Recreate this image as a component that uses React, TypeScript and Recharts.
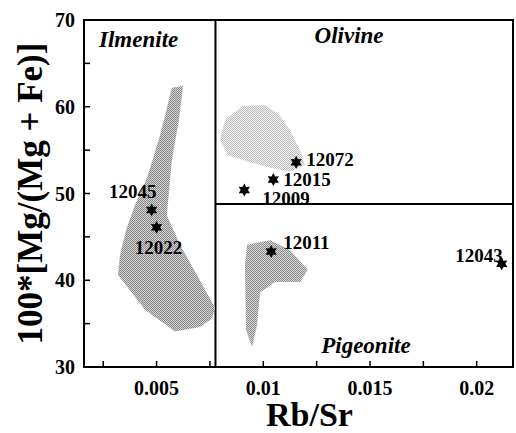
import {
	ReferenceArea,
	ReferenceLine,
	Scatter,
	ScatterChart,
	XAxis,
	YAxis,
} from "recharts";

// lunar basalt samples
const sampleIds = ["12045", "12022", "12072", "12015", "12009", "12011", "12043"];
const rbSr = [0.00477, 0.005, 0.01154, 0.01047, 0.00911, 0.01037, 0.02117];
const mgNumber = [48.1, 46.1, 53.6, 51.6, 50.4, 43.3, 41.9];

// shaded fields (outline vertices)
const ilmeniteFieldX = [0.00572, 0.00624, 0.00605, 0.00572, 0.00548, 0.0061, 0.00703, 0.00774, 0.0076, 0.00703, 0.00586, 0.00446, 0.00319, 0.00329, 0.00357, 0.00399, 0.00455, 0.00516];
const ilmeniteFieldY = [62.2, 62.4, 58.5, 53.9, 47.5, 44.1, 40.0, 36.8, 35.6, 34.6, 34.1, 36.6, 40.6, 42.9, 45.8, 48.7, 51.8, 56.7];
const olivineFieldX = [0.00905, 0.01008, 0.01078, 0.01125, 0.01172, 0.01195, 0.01125, 0.01031, 0.00938, 0.00835, 0.00797, 0.00821];
const olivineFieldY = [60.1, 60.2, 59.0, 57.3, 55.0, 53.3, 52.5, 53.0, 53.6, 54.4, 56.2, 58.5];
const pigeoniteFieldX = [0.00924, 0.01031, 0.01125, 0.01209, 0.01172, 0.01055, 0.00985, 0.00971, 0.00947, 0.00919, 0.00914];
const pigeoniteFieldY = [44.1, 44.6, 43.5, 41.2, 39.8, 39.8, 38.6, 34.8, 32.3, 34.3, 41.8];

// basalt group names and where they sit
const groupNames = ["Ilmenite", "Olivine", "Pigeonite"];
const groupLabelX = [0.00416, 0.01402, 0.01481];
const groupLabelY = [67.7, 68.2, 32.5];

// group boundaries
const ilmeniteLimitRbSr = 0.00776;
const pigeoniteLimitMg = 48.8;

const xDomain = [0.0016, 0.0217];
const yDomain = [30, 70];
const xTicks = [0.0025, 0.005, 0.0075, 0.01, 0.0125, 0.015, 0.0175, 0.02];
const yTicks = [30, 35, 40, 45, 50, 55, 60, 65, 70];

const FONT = "'Liberation Serif', 'Times New Roman', serif";

const labelPlacement: Record<string, { dx: number; dy: number; anchor: string }> = {
	"12045": { dx: -19, dy: -18, anchor: "middle" },
	"12022": { dx: 2, dy: 20, anchor: "middle" },
	"12072": { dx: 10, dy: -3, anchor: "start" },
	"12015": { dx: 10, dy: 0, anchor: "start" },
	"12009": { dx: 18, dy: 8, anchor: "start" },
	"12011": { dx: 12, dy: -9, anchor: "start" },
	"12043": { dx: 1, dy: -8, anchor: "end" },
};

const samples = sampleIds.map((id, i) => ({ id, x: rbSr[i], y: mgNumber[i] }));
const groups = groupNames.map((name, i) => ({ name, x: groupLabelX[i], y: groupLabelY[i] }));
const toPoints = (xs: number[], ys: number[]) => xs.map((x, i) => ({ x, y: ys[i] }));

function Star(props: any) {
	const { cx, cy, payload } = props;
	const pts: string[] = [];
	for (let i = 0; i < 12; i++) {
		const a = (Math.PI / 6) * i - Math.PI / 2;
		const r = i % 2 === 0 ? 6.5 : 3.6;
		pts.push(`${cx + r * Math.cos(a)},${cy + r * Math.sin(a)}`);
	}
	const p = labelPlacement[payload.id];
	return (
		<g>
			<polygon points={pts.join(" ")} fill="#000" />
			<text
				x={cx + p.dx}
				y={cy + p.dy}
				textAnchor={p.anchor as any}
				dominantBaseline="central"
				fontSize={19}
				fontWeight="bold"
				fontFamily={FONT}
				fill="#000"
			>
				{payload.id}
			</text>
		</g>
	);
}

function GroupName(props: any) {
	const { cx, cy, payload } = props;
	return (
		<text
			x={cx}
			y={cy}
			textAnchor="middle"
			dominantBaseline="central"
			fontSize={23}
			fontWeight="bold"
			fontStyle="italic"
			fontFamily={FONT}
			fill="#000"
		>
			{payload.name}
		</text>
	);
}

const field = (id: string, dot: string, bg: string) => (props: any) => {
	const pts = props.points.map((p: any) => `${p.x},${p.y}`).join(" ");
	return (
		<g>
			<defs>
				<pattern id={id} width={2} height={2} patternUnits="userSpaceOnUse">
					<rect width={2} height={2} fill={bg} />
					<rect width={1} height={1} fill={dot} />
					<rect x={1} y={1} width={1} height={1} fill={dot} />
				</pattern>
			</defs>
			<polygon points={pts} fill={`url(#${id})`} stroke="none" />
		</g>
	);
};

const noDot = () => <g />;

function XTitle(props: any) {
	const { viewBox } = props;
	return (
		<text
			x={viewBox.x + viewBox.width / 2 + 11}
			y={viewBox.y + 59}
			textAnchor="middle"
			fontSize={34}
			fontWeight="bold"
			fontFamily={FONT}
			fill="#000"
		>
			Rb/Sr
		</text>
	);
}

function YTitle(props: any) {
	const { viewBox } = props;
	const x = viewBox.x + 30;
	const y = viewBox.y + viewBox.height / 2;
	return (
		<text
			x={x}
			y={y}
			transform={`rotate(-90, ${x}, ${y})`}
			textAnchor="middle"
			dominantBaseline="central"
			fontSize={35}
			fontWeight="bold"
			fontFamily={FONT}
			fill="#000"
		>
			100*[Mg/(Mg + Fe)]
		</text>
	);
}

const xLabel = (v: number) =>
	Math.abs(v / 0.005 - Math.round(v / 0.005)) < 1e-6 ? String(+v.toFixed(3)) : "";
const yLabel = (v: number) => (v % 10 === 0 ? String(v) : "");

export default function App() {
	return (
		<div style={{ position: "absolute", left: 0, top: 0, background: "#fff" }}>
			<ScatterChart
				width={516}
				height={433}
				margin={{ top: 20, right: 3, left: 0, bottom: 0 }}
			>
				<XAxis
					type="number"
					dataKey="x"
					domain={xDomain}
					ticks={xTicks}
					tickFormatter={xLabel}
					allowDataOverflow
					height={66}
					tickSize={-6}
					tickMargin={20}
					axisLine={{ stroke: "#000", strokeWidth: 2 }}
					tickLine={{ stroke: "#000", strokeWidth: 1.5 }}
					tick={{ fill: "#000", fontSize: 20, fontWeight: "bold", fontFamily: FONT }}
					label={<XTitle />}
				/>
				<YAxis
					type="number"
					dataKey="y"
					domain={yDomain}
					ticks={yTicks}
					tickFormatter={yLabel}
					allowDataOverflow
					width={84}
					tickSize={-6}
					tickMargin={15}
					axisLine={{ stroke: "#000", strokeWidth: 2 }}
					tickLine={{ stroke: "#000", strokeWidth: 1.5 }}
					tick={{ fill: "#000", fontSize: 20, fontWeight: "bold", fontFamily: FONT }}
					label={<YTitle />}
				/>
				<Scatter
					data={toPoints(ilmeniteFieldX, ilmeniteFieldY)}
					line={field("ilmPat", "#8a8a8a", "#d2d2d2")}
					shape={noDot}
					isAnimationActive={false}
				/>
				<Scatter
					data={toPoints(olivineFieldX, olivineFieldY)}
					line={field("olvPat", "#bcbcbc", "#f2f2f2")}
					shape={noDot}
					isAnimationActive={false}
				/>
				<Scatter
					data={toPoints(pigeoniteFieldX, pigeoniteFieldY)}
					line={field("pigPat", "#8e8e8e", "#d4d4d4")}
					shape={noDot}
					isAnimationActive={false}
				/>
				<ReferenceArea
					x1={xDomain[0]}
					x2={xDomain[1]}
					y1={yDomain[0]}
					y2={yDomain[1]}
					fill="none"
					stroke="#000"
					strokeWidth={2}
				/>
				<ReferenceLine
					segment={[
						{ x: ilmeniteLimitRbSr, y: yDomain[0] },
						{ x: ilmeniteLimitRbSr, y: yDomain[1] },
					]}
					stroke="#000"
					strokeWidth={2}
				/>
				<ReferenceLine
					segment={[
						{ x: ilmeniteLimitRbSr, y: pigeoniteLimitMg },
						{ x: xDomain[1], y: pigeoniteLimitMg },
					]}
					stroke="#000"
					strokeWidth={2}
				/>
				<Scatter data={groups} shape={GroupName} isAnimationActive={false} />
				<Scatter data={samples} shape={Star} isAnimationActive={false} />
			</ScatterChart>
		</div>
	);
}
